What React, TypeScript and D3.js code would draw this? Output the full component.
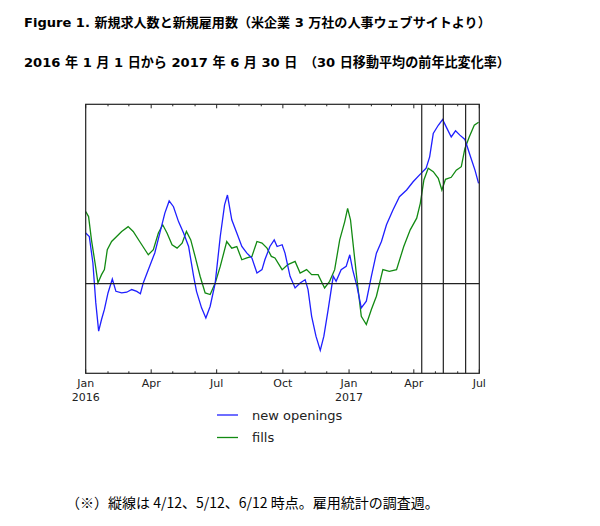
import React from 'react';
import * as d3 from 'd3';

// 30-day moving average, year-over-year % change
const openingDates = [
  '2016-01-01', '2016-01-06', '2016-01-11', '2016-01-15', '2016-01-19', '2016-01-23', '2016-01-27', '2016-02-01',
  '2016-02-07', '2016-02-12', '2016-02-20', '2016-02-27', '2016-03-05', '2016-03-12', '2016-03-17', '2016-03-21',
  '2016-03-28', '2016-04-06', '2016-04-13', '2016-04-20', '2016-04-26', '2016-05-02', '2016-05-09', '2016-05-16',
  '2016-05-23', '2016-05-30', '2016-06-03', '2016-06-10', '2016-06-16', '2016-06-22', '2016-06-29', '2016-07-06',
  '2016-07-12', '2016-07-16', '2016-07-22', '2016-07-29', '2016-08-05', '2016-08-12', '2016-08-19', '2016-08-26',
  '2016-09-02', '2016-09-06', '2016-09-13', '2016-09-19', '2016-09-23', '2016-09-30', '2016-10-04', '2016-10-11',
  '2016-10-18', '2016-10-25', '2016-11-01', '2016-11-05', '2016-11-10', '2016-11-16', '2016-11-22', '2016-11-27',
  '2016-12-03', '2016-12-10', '2016-12-14', '2016-12-21', '2016-12-28', '2017-01-02', '2017-01-06', '2017-01-12',
  '2017-01-18', '2017-01-25', '2017-02-01', '2017-02-08', '2017-02-15', '2017-02-22', '2017-03-03', '2017-03-12',
  '2017-03-22', '2017-03-31', '2017-04-11', '2017-04-18', '2017-04-23', '2017-04-28', '2017-05-05', '2017-05-11',
  '2017-05-16', '2017-05-23', '2017-05-29', '2017-06-04', '2017-06-11', '2017-06-18', '2017-06-25', '2017-06-30',
];
const openingValues = [
  2.82, 2.63, 1.15, -1.06, -2.65, -2.0, -1.44, -0.52,
  0.26, -0.43, -0.52, -0.48, -0.33, -0.43, -0.56, 0.04,
  0.78, 1.71, 2.82, 3.93, 4.61, 4.29, 3.46, 2.82,
  2.07, 0.41, -0.43, -1.35, -1.91, -1.26, 0.04, 2.63,
  4.39, 4.94, 3.56, 2.82, 2.07, 1.7, 1.43, 0.59,
  0.78, 1.33, 2.07, 2.44, 2.07, 2.17, 1.7, 0.41,
  -0.24, 0.04, 0.22, -0.33, -1.82, -2.93, -3.72, -2.93,
  -1.44, 0.41, 0.13, 0.78, 0.96, 1.61, 0.78, -0.15,
  -1.35, -0.98, 0.41, 1.7, 2.35, 3.28, 4.11, 4.85,
  5.22, 5.68, 6.15, 6.43, 7.07, 8.37, 8.83, 9.15,
  8.74, 8.18, 8.52, 8.28, 8.04, 7.17, 6.33, 5.59,
];

const fillDates = [
  '2016-01-01', '2016-01-05', '2016-01-09', '2016-01-14', '2016-01-18', '2016-01-23', '2016-01-27', '2016-01-31',
  '2016-02-06', '2016-02-13', '2016-02-20', '2016-02-29', '2016-03-07', '2016-03-16', '2016-03-28', '2016-04-04',
  '2016-04-11', '2016-04-17', '2016-04-23', '2016-04-30', '2016-05-07', '2016-05-14', '2016-05-20', '2016-05-26',
  '2016-06-01', '2016-06-08', '2016-06-15', '2016-06-22', '2016-06-29', '2016-07-06', '2016-07-15', '2016-07-22',
  '2016-07-29', '2016-08-05', '2016-08-12', '2016-08-19', '2016-08-26', '2016-09-02', '2016-09-09', '2016-09-15',
  '2016-09-20', '2016-09-30', '2016-10-08', '2016-10-18', '2016-10-25', '2016-11-03', '2016-11-10', '2016-11-19',
  '2016-11-28', '2016-12-05', '2016-12-12', '2016-12-19', '2016-12-26', '2016-12-30', '2017-01-03', '2017-01-06',
  '2017-01-12', '2017-01-18', '2017-01-25', '2017-02-01', '2017-02-08', '2017-02-17', '2017-02-26', '2017-03-08',
  '2017-03-18', '2017-03-27', '2017-04-05', '2017-04-10', '2017-04-15', '2017-04-21', '2017-04-28', '2017-05-05',
  '2017-05-10', '2017-05-15', '2017-05-23', '2017-05-30', '2017-06-06', '2017-06-11', '2017-06-17', '2017-06-24',
  '2017-06-30',
];
const fillValues = [
  4.02, 3.74, 2.44, 1.15, 0.04, 0.5, 0.78, 1.89,
  2.35, 2.63, 2.91, 3.18, 2.91, 2.35, 1.61, 1.89,
  2.82, 3.28, 2.82, 2.17, 1.98, 2.26, 2.91, 2.44,
  1.52, 0.41, -0.52, -0.61, 0.04, 0.96, 2.35, 1.98,
  2.07, 1.33, 1.43, 1.52, 2.35, 2.26, 1.98, 1.52,
  1.43, 0.78, 1.06, 1.24, 0.59, 0.78, 0.5, 0.5,
  -0.24, 0.13, 0.78, 2.44, 3.46, 4.2, 3.56, 2.44,
  0.22, -1.82, -2.28, -1.44, -0.7, 0.78, 0.68, 0.78,
  2.07, 3.0, 3.65, 4.48, 5.78, 6.43, 6.24, 5.87,
  5.22, 5.82, 5.93, 6.33, 6.52, 7.54, 8.18, 8.83,
  9.0,
];

// employment report survey weeks
const surveyDates = ['2017-04-12', '2017-05-12', '2017-06-12'];

const tickLabels = ['Jan', 'Apr', 'Jul', 'Oct', 'Jan', 'Apr', 'Jul'];
const yearLabels: Record<number, string> = { 0: '2016', 4: '2017' };

const seriesNames = ['new openings', 'fills'];
const seriesColors = ['#1f1fff', '#128a12'];

const parse = d3.timeParse('%Y-%m-%d');

const App: React.FC = () => {
  const left = 85.7;
  const right = 479.3;
  const top = 104.3;
  const bottom = 373.3;

  const x = d3.scaleTime().domain([parse('2016-01-01')!, parse('2017-07-01')!]).range([left, right]);
  const y = d3.scaleLinear().domain([-5, 10]).range([bottom, top]);

  const line = d3
    .line<[Date, number]>()
    .x((d) => x(d[0]))
    .y((d) => y(d[1]));

  const openings: [Date, number][] = openingDates.map((d, i) => [parse(d)!, openingValues[i]]);
  const fills: [Date, number][] = fillDates.map((d, i) => [parse(d)!, fillValues[i]]);

  const months = d3.timeMonth.range(parse('2016-01-01')!, parse('2017-07-02')!);
  const majors = months.filter((m) => m.getMonth() % 3 === 0);

  const tickFont = '"DejaVu Sans", sans-serif';
  const titleFont = '"DejaVu Sans", "Noto Sans CJK JP", sans-serif';
  const jpFont = '"Noto Sans CJK JP", sans-serif';

  return (
    <svg width={600} height={526} style={{ position: 'absolute', left: 0, top: 0, background: '#fff' }}>
      <text x={24} y={26.5} fontFamily={titleFont} fontWeight="bold" fontSize={13.05} fill="#000">
        Figure 1. 新規求人数と新規雇用数（米企業 3 万社の人事ウェブサイトより）
      </text>
      <text x={24} y={66.5} fontFamily={titleFont} fontWeight="bold" fontSize={13.1} fill="#000">
        2016 年 1 月 1 日から 2017 年 6 月 30 日　（30 日移動平均の前年比変化率）
      </text>

      {/* lines */}
      <path d={line(fills) || ''} fill="none" stroke={seriesColors[1]} strokeWidth={1.3} />
      <path d={line(openings) || ''} fill="none" stroke={seriesColors[0]} strokeWidth={1.3} />

      {/* zero line */}
      <line x1={left} x2={right} y1={y(0)} y2={y(0)} stroke="#222" strokeWidth={1.2} />

      {/* survey week markers */}
      {surveyDates.map((d) => (
        <line key={d} x1={x(parse(d)!)} x2={x(parse(d)!)} y1={top} y2={bottom} stroke="#222" strokeWidth={1.2} />
      ))}

      {/* frame */}
      <rect x={left} y={top} width={right - left} height={bottom - top} fill="none" stroke="#222" strokeWidth={1.2} />

      {/* ticks, inward on bottom and top */}
      {months.map((m, i) => {
        const len = m.getMonth() % 3 === 0 ? 4 : 2;
        const px = x(m);
        return (
          <g key={i} stroke="#222" strokeWidth={1}>
            <line x1={px} x2={px} y1={bottom} y2={bottom - len} />
            <line x1={px} x2={px} y1={top} y2={top + len} />
          </g>
        );
      })}
      {majors.map((m, i) => (
        <g key={'l' + i} fontFamily={tickFont} fontSize={11} fill="#222" textAnchor="middle">
          <text x={x(m)} y={387}>
            {tickLabels[i]}
          </text>
          {yearLabels[i] && (
            <text x={x(m)} y={401}>
              {yearLabels[i]}
            </text>
          )}
        </g>
      ))}

      {/* legend */}
      {seriesNames.map((name, i) => (
        <g key={name}>
          <line x1={217} x2={238} y1={415 + i * 22.5} y2={415 + i * 22.5} stroke={seriesColors[i]} strokeWidth={1.3} />
          <text x={252} y={419.5 + i * 22.5} fontFamily={tickFont} fontSize={13} fill="#222">
            {name}
          </text>
        </g>
      ))}

      <text x={66} y={508} fontFamily={jpFont} fontSize={14} fill="#000">
        （※）縦線は 4/12、5/12、6/12 時点。雇用統計の調査週。
      </text>
    </svg>
  );
};

export default App;
